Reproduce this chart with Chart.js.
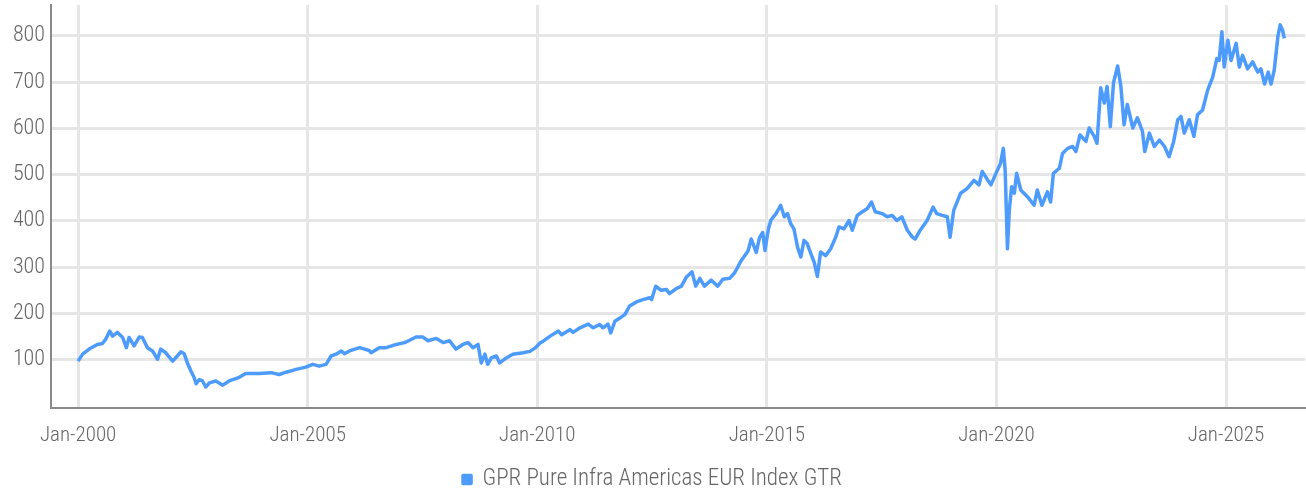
<!DOCTYPE html>
<html>
<head>
<meta charset="utf-8">
<script src="https://cdn.jsdelivr.net/npm/chart.js@4"></script>
<style>
  html, body { margin: 0; padding: 0; background: #fff; }
  .chart-box { width: 1306px; height: 491px; position: relative; }
</style>
</head>
<body>
<div class="chart-box"><canvas id="indexChart"></canvas></div>
<script>
// dates as decimal years
const years = [
  2000.00, 2000.10, 2000.24, 2000.42, 2000.53, 2000.60, 2000.69, 2000.75, 2000.86, 2000.97,
  2001.05, 2001.11, 2001.22, 2001.33, 2001.40, 2001.51, 2001.62, 2001.73, 2001.80, 2001.91,
  2002.06, 2002.16, 2002.24, 2002.31, 2002.38, 2002.46, 2002.53, 2002.57, 2002.64, 2002.71,
  2002.78, 2002.86, 2003.00, 2003.15, 2003.29, 2003.51, 2003.65, 2003.95, 2004.20, 2004.38,
  2004.53, 2004.75, 2004.96, 2005.11, 2005.25, 2005.40, 2005.51, 2005.62, 2005.73, 2005.80,
  2005.91, 2006.13, 2006.34, 2006.38, 2006.56, 2006.71, 2006.93, 2007.11, 2007.22, 2007.36,
  2007.51, 2007.62, 2007.80, 2007.95, 2008.09, 2008.23, 2008.38, 2008.49, 2008.60, 2008.71,
  2008.78, 2008.86, 2008.92, 2009.00, 2009.11, 2009.18, 2009.33, 2009.47, 2009.69, 2009.84,
  2009.95, 2010.06, 2010.13, 2010.28, 2010.46, 2010.53, 2010.71, 2010.78, 2010.93, 2011.11,
  2011.22, 2011.36, 2011.43, 2011.54, 2011.60, 2011.69, 2011.80, 2011.91, 2012.01, 2012.16,
  2012.30, 2012.45, 2012.49, 2012.58, 2012.70, 2012.81, 2012.88, 2013.03, 2013.14, 2013.25,
  2013.37, 2013.45, 2013.54, 2013.64, 2013.79, 2013.93, 2014.04, 2014.19, 2014.30, 2014.44,
  2014.59, 2014.66, 2014.77, 2014.84, 2014.91, 2014.96, 2015.01, 2015.04, 2015.09, 2015.20,
  2015.30, 2015.38, 2015.45, 2015.52, 2015.59, 2015.67, 2015.74, 2015.81, 2015.88, 2015.96,
  2016.03, 2016.10, 2016.17, 2016.28, 2016.39, 2016.50, 2016.57, 2016.68, 2016.79, 2016.86,
  2016.97, 2017.08, 2017.19, 2017.28, 2017.36, 2017.51, 2017.62, 2017.73, 2017.83, 2017.94,
  2018.06, 2018.17, 2018.23, 2018.34, 2018.49, 2018.62, 2018.70, 2018.82, 2018.93, 2018.99,
  2019.07, 2019.22, 2019.36, 2019.51, 2019.62, 2019.69, 2019.88, 2019.99, 2020.09, 2020.15,
  2020.19, 2020.24, 2020.28, 2020.33, 2020.39, 2020.44, 2020.53, 2020.68, 2020.82, 2020.89,
  2020.99, 2021.11, 2021.18, 2021.24, 2021.37, 2021.44, 2021.55, 2021.66, 2021.73, 2021.82,
  2021.95, 2022.02, 2022.13, 2022.19, 2022.27, 2022.35, 2022.41, 2022.48, 2022.55, 2022.64,
  2022.71, 2022.78, 2022.85, 2022.97, 2023.07, 2023.18, 2023.23, 2023.33, 2023.44, 2023.55,
  2023.66, 2023.76, 2023.86, 2023.95, 2024.02, 2024.09, 2024.20, 2024.30, 2024.38, 2024.49,
  2024.60, 2024.71, 2024.80, 2024.85, 2024.91, 2024.96, 2025.04, 2025.11, 2025.22, 2025.29,
  2025.36, 2025.47, 2025.58, 2025.69, 2025.76, 2025.84, 2025.92, 2025.98, 2026.05, 2026.13,
  2026.18, 2026.23, 2026.27
];

const values = [
  97, 112, 123, 133, 135, 144, 162, 151, 159, 148,
  126, 148, 130, 149, 148, 126, 119, 101, 123, 115,
  97, 108, 117, 113, 93, 75, 61, 48, 57, 54,
  41, 50, 54, 45, 54, 62, 70, 70, 72, 68,
  73, 79, 84, 90, 86, 90, 108, 112, 119, 113,
  119, 126, 120, 115, 126, 126, 133, 137, 142, 149,
  149, 141, 146, 137, 141, 123, 133, 137, 126, 133,
  93, 112, 90, 104, 108, 93, 104, 112, 115, 118,
  125, 136, 140, 151, 162, 154, 165, 159, 169, 177,
  169, 176, 169, 177, 158, 183, 190, 198, 216, 225,
  230, 234, 230, 259, 250, 252, 243, 254, 259, 279,
  290, 259, 276, 259, 272, 259, 274, 276, 288, 314,
  335, 361, 332, 364, 375, 336, 369, 385, 402, 416,
  434, 409, 416, 394, 383, 343, 322, 358, 351, 329,
  311, 280, 333, 325, 340, 365, 387, 383, 401, 380,
  412, 420, 427, 441, 420, 416, 409, 412, 401, 409,
  380, 365, 361, 380, 401, 430, 416, 412, 409, 365,
  423, 460, 470, 488, 478, 507, 478, 503, 525, 557,
  510, 340, 423, 474, 460, 503, 467, 452, 434, 467,
  434, 463, 441, 503, 514, 546, 557, 561, 550, 586,
  572, 601, 583, 568, 688, 655, 691, 604, 699, 735,
  691, 608, 652, 601, 623, 594, 550, 590, 561, 575,
  561, 539, 572, 619, 626, 590, 619, 583, 630, 640,
  683, 711, 751, 747, 809, 733, 791, 747, 784, 733,
  758, 729, 744, 722, 729, 696, 722, 696, 726, 799,
  824, 813, 795
];

const xTicks = [2000, 2005, 2010, 2015, 2020, 2025];
const yTicks = [100, 200, 300, 400, 500, 600, 700, 800];
const seriesName = 'GPR Pure Infra Americas EUR Index GTR';

const lineColor = '#4d9bfd';
const fontFamily = "'Roboto Condensed', 'Liberation Sans Narrow', Roboto, sans-serif";

const points = years.map((x, i) => ({ x: x, y: values[i] }));

// drop the automatic room Chart.js keeps for half a tick label
function noEdgePadding(scale) {
  scale.paddingTop = 0;
  scale.paddingBottom = 0;
  scale.paddingLeft = 0;
  scale.paddingRight = 0;
}

new Chart(document.getElementById('indexChart'), {
  type: 'line',
  data: {
    datasets: [{
      label: seriesName,
      data: points,
      borderColor: lineColor,
      backgroundColor: lineColor,
      borderWidth: 3.5,
      borderJoinStyle: 'round',
      pointRadius: 0,
      tension: 0
    }]
  },
  options: {
    responsive: true,
    maintainAspectRatio: false,
    animation: false,
    devicePixelRatio: 1,
    layout: {
      padding: { top: 5, right: 1, left: 0, bottom: -10 }
    },
    plugins: {
      tooltip: { enabled: false },
      legend: {
        position: 'bottom',
        labels: {
          boxWidth: 8,
          boxHeight: 8,
          padding: 5,
          color: '#666',
          font: { family: fontFamily, size: 23, weight: '300' }
        }
      }
    },
    scales: {
      x: {
        type: 'linear',
        min: 1999.41,
        max: 2026.72,
        afterBuildTicks: (scale) => {
          scale.ticks = xTicks.map(v => ({ value: v }));
        },
        afterFit: noEdgePadding,
        grid: { color: '#e6e6e6', lineWidth: 3, drawTicks: false },
        border: { color: '#8a8a8a', width: 2 },
        ticks: {
          padding: 15,
          maxRotation: 0,
          color: '#666',
          font: { family: fontFamily, size: 21, weight: '300' },
          callback: (v) => 'Jan-' + v
        }
      },
      y: {
        min: -4,
        max: 867,
        afterBuildTicks: (scale) => {
          scale.ticks = yTicks.map(v => ({ value: v }));
        },
        afterFit: (scale) => {
          noEdgePadding(scale);
          scale.width = 51;
        },
        grid: { color: '#e6e6e6', lineWidth: 3, drawTicks: false },
        border: { color: '#8a8a8a', width: 2 },
        ticks: {
          padding: 6,
          color: '#666',
          font: { family: fontFamily, size: 22, weight: '300' }
        }
      }
    }
  }
});
</script>
</body>
</html>
